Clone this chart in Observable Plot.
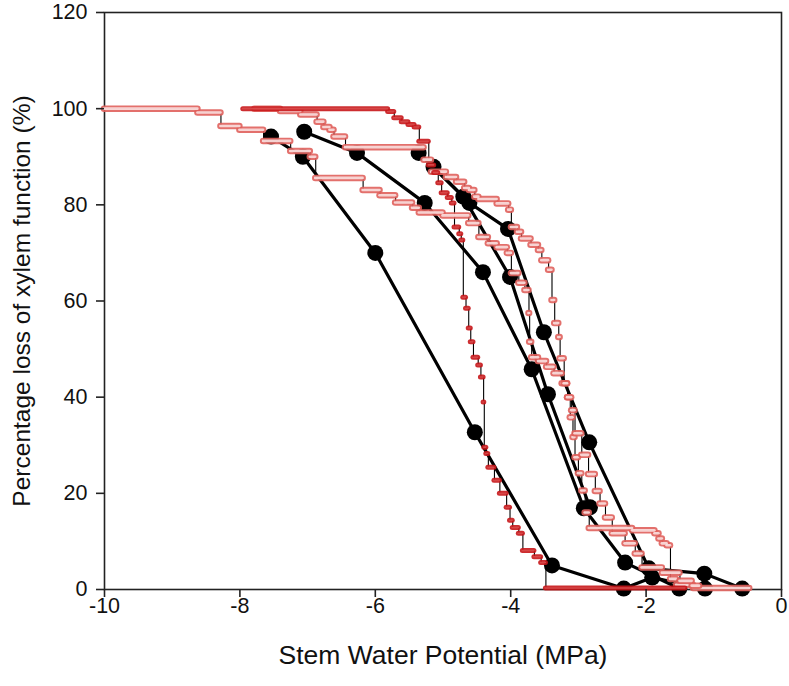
<!DOCTYPE html>
<html><head><meta charset="utf-8">
<script src="https://cdn.jsdelivr.net/npm/d3@7"></script>
<script src="https://cdn.jsdelivr.net/npm/@observablehq/plot@0.6"></script>
<style>
body{margin:0;background:#fff;font-family:"Liberation Sans",Arial,sans-serif}
</style>
</head><body><div id="chart"></div>
<script>
// Black measured series (large dots)
const s1x = [-7.54,-7.07,-6.0,-4.53,-3.39,-2.33,-1.91,-1.13];
const s1y = [94.2,90.0,70.0,32.7,5.0,0.2,2.5,0.2];
const s2x = [-7.05,-6.27,-5.27,-4.41,-3.69,-2.92,-2.31,-1.51];
const s2y = [95.2,90.8,80.4,66.0,45.8,16.9,5.6,0.2];
const s3x = [-5.36,-4.61,-4.04,-3.51,-2.84,-1.96,-1.14,-0.58];
const s3y = [90.8,80.4,75.0,53.5,30.6,4.4,3.3,0.2];
const s4x = [-5.14,-4.70,-4.01,-3.45,-2.83];
const s4y = [87.9,81.7,65.0,40.6,17.1];

// Red continuous step curves: plateau start x and level, plus final x
const r1x = [-10,-8.62,-8.28,-8.0,-7.65,-7.25,-6.96,-6.88,-6.18,-5.93,-5.7,-5.45,-5.35,-5.0,-4.62,-4.47,-4.33,-4.2,-4.05,-3.99,-3.88,-3.79,-3.73,-3.72,-3.69,-3.59,-3.47,-3.36,-3.24,-3.16,-3.12,-3.08,-3.05,-3.0,-2.95,-2.90,-2.84,-2.2,-1.87,-1.81,-1.76,-1.69,-1.64,-1.55,-1.3];
const r1y = [100,99.2,96.4,95.6,93.3,91.2,90.0,85.6,83.1,82.0,80.5,79.4,78.4,77.8,76.2,73.3,72.0,71.2,70.0,65.8,63.8,62.3,57.5,51.5,48.3,47.5,46.3,45.0,42.9,40.0,35.8,31.7,27.5,24.2,20.6,16.0,12.8,12.3,11.7,10.6,9.6,9.2,2.2,1.0,0.3];
const r1end = -0.47;
const r2x = [-7.78,-7.4,-7.1,-6.86,-6.76,-6.67,-6.61,-6.44,-5.28,-5.17,-4.95,-4.80,-4.68,-4.61,-4.53,-4.47,-4.2,-4.03,-3.99,-3.9,-3.84,-3.7,-3.59,-3.54,-3.44,-3.39,-3.35,-3.29,-3.27,-3.21,-3.16,-3.10,-3.05,-2.95,-2.85,-2.75,-2.68,-2.6,-2.5,-2.31,-2.16,-2.06,-1.76,-1.5,-1.32];
const r2y = [100,99.5,98.8,97.3,96.2,95.6,94.2,92.0,89.4,86.9,85.8,84.8,83.5,83.1,81.7,81.2,80.3,79.0,75.4,74.4,73.0,71.7,70.6,68.5,66.5,60.2,55.4,52.5,48.1,42.9,40.0,37.3,32.5,28.0,24.0,20.5,17.9,15.0,11.7,9.6,7.5,4.6,3.5,1.8,0.8];
const r2end = -1.21;
const r3x = [-7.95,-5.81,-5.72,-5.61,-5.51,-5.42,-5.35,-5.21,-5.13,-5.07,-5.02,-4.93,-4.87,-4.83,-4.76,-4.73,-4.70,-4.66,-4.62,-4.59,-4.55,-4.48,-4.44,-4.40,-4.39,-4.36,-4.33,-4.24,-4.16,-4.06,-4.01,-3.97,-3.88,-3.82,-3.65,-3.55,-3.48];
const r3y = [100,99.4,98.1,97.3,96.7,96.2,93.2,88.3,86.7,84.6,82.5,81.5,80.4,75.4,74.0,72.7,60.8,58.5,54.4,51.5,48.3,46.7,44.2,39.0,29.6,28.3,25.4,22.7,20.0,17.1,14.4,12.9,11.7,8.1,6.8,5.6,0.3];
const r3end = -1.42;

const xTicks = [-10,-8,-6,-4,-2,0];
const yTicks = [0,20,40,60,80,100,120];
const xTickLabels = ["-10","-8","-6","-4","-2","0"];
const yTickLabels = ["0","20","40","60","80","100","120"];

const pts = (xs, ys) => xs.map((x,i)=>({x, y: ys[i]}));
const segs = (xs, ys, end) => xs.map((x,i)=>({x1:x, x2: i < xs.length-1 ? xs[i+1] : end, y: ys[i]}));
const stepPts = (xs, ys, end) => [...pts(xs, ys), {x: end, y: ys[ys.length-1]}];

const black = [pts(s1x,s1y), pts(s2x,s2y), pts(s3x,s3y), pts(s4x,s4y)];
const reds = [
  {s: segs(r1x,r1y,r1end), p: stepPts(r1x,r1y,r1end), outer:"#e0605c", inner:"#fde8e8", w:6.5, iw:2.6},
  {s: segs(r2x,r2y,r2end), p: stepPts(r2x,r2y,r2end), outer:"#e0605c", inner:"#fde8e8", w:6.5, iw:2.6},
  {s: segs(r3x,r3y,r3end), p: stepPts(r3x,r3y,r3end), outer:"#c8161a", inner:"#dc5050", w:5, iw:1.6}
];

const marks = [Plot.frame({stroke:"#222", strokeWidth:1.6})];
for (const b of black) {
  marks.push(Plot.line(b, {x:"x", y:"y", stroke:"#000", strokeWidth:3.2}));
  marks.push(Plot.dot(b, {x:"x", y:"y", r:8, fill:"#000", stroke:"none"}));
}
for (const r of reds) {
  marks.push(Plot.line(r.p, {x:"x", y:"y", curve:"step-after", stroke:"#000", strokeWidth:1.1}));
}
for (const r of reds) {
  marks.push(Plot.ruleY(r.s, {y:"y", x1:"x1", x2:"x2", stroke:r.outer, strokeWidth:r.w, strokeLinecap:"round", strokeOpacity:0.9}));
  marks.push(Plot.ruleY(r.s, {y:"y", x1:"x1", x2:"x2", stroke:r.inner, strokeWidth:r.iw, strokeLinecap:"round", strokeOpacity:0.85}));
}
// tick marks from the axes, tick labels as explicit text marks on the same scales
marks.push(Plot.axisX({ticks:xTicks, tickSize:8, tickFormat:()=>"", label:null, stroke:"#222", strokeWidth:1.6}));
marks.push(Plot.axisY({ticks:yTicks, tickSize:8, tickFormat:()=>"", label:null, stroke:"#222", strokeWidth:1.6}));
marks.push(Plot.text(xTicks, {frameAnchor:"bottom", x:d=>d, text:(d,i)=>xTickLabels[i], dy:23, fontSize:21.5, fill:"#111", textAnchor:"middle"}));
marks.push(Plot.text(yTicks, {frameAnchor:"left", y:d=>d, text:(d,i)=>yTickLabels[i], dx:-17, fontSize:21.5, fill:"#111", textAnchor:"end"}));
marks.push(Plot.text(["Stem Water Potential (MPa)"], {frameAnchor:"bottom", dy:74, fontSize:26.5, fill:"#111", textAnchor:"middle"}));
marks.push(Plot.text(["Percentage loss of xylem function (%)"], {frameAnchor:"left", dx:-82, rotate:-90, fontSize:24.5, fill:"#111", textAnchor:"middle"}));

const chart = Plot.plot({
  width:789, height:686,
  marginLeft:104, marginRight:8, marginTop:12, marginBottom:97,
  x:{domain:[-10,0]}, y:{domain:[0,120]},
  style:{fontFamily:"'Liberation Sans', Arial, sans-serif", color:"#111", background:"#fff", overflow:"visible"},
  marks
});
document.getElementById("chart").appendChild(chart);
</script></body></html>
